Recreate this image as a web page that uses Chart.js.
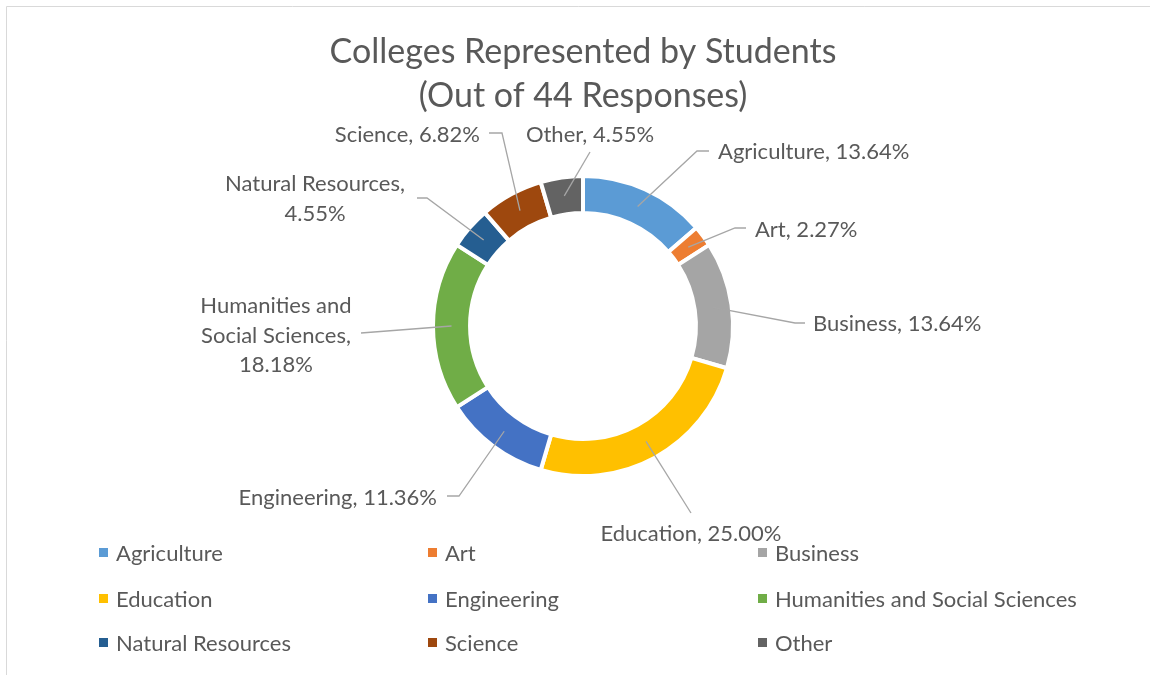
<!DOCTYPE html>
<html>
<head>
<meta charset="utf-8">
<script src="https://cdn.jsdelivr.net/npm/chart.js@4.4.1/dist/chart.umd.min.js"></script>
<style>
  html, body { margin: 0; padding: 0; background: #fff; }
  #wrap { position: relative; width: 1150px; height: 675px; }
</style>
</head>
<body>
<div id="wrap"><canvas id="chart" width="1150" height="675"></canvas></div>
<script>
// Data (44 responses)
const categories = ['Agriculture', 'Art', 'Business', 'Education', 'Engineering',
  'Humanities and Social Sciences', 'Natural Resources', 'Science', 'Other'];
const responses = [6, 1, 6, 11, 5, 8, 2, 3, 2];
const totalResponses = 44;
const titleLines = ['Colleges Represented by Students', '(Out of 44 Responses)'];

// Office palette
const colors = ['#5B9BD5', '#ED7D31', '#A5A5A5', '#FFC000', '#4472C4',
  '#70AD47', '#255E91', '#9E480E', '#636363'];

// Label placement, relative to the ring centre (elbow points, then text anchor)
const labelLayout = [
  { path: [[114, -175], [126, -175]], tx: 135, ty: -175, align: 'left', lines: ['Agriculture, {p}'] },
  { path: [[152, -98], [163, -98]], tx: 172, ty: -97, align: 'left', lines: ['Art, {p}'] },
  { path: [[212, -3], [222, -3]], tx: 230, ty: -3, align: 'left', lines: ['Business, {p}'] },
  { path: [[108, 187]], tx: 108, ty: 207, align: 'center', lines: ['Education, {p}'] },
  { path: [[-124, 170], [-136, 170]], tx: -146, ty: 171, align: 'right', lines: ['Engineering, {p}'] },
  { path: [[-222, 7]], tx: -307, ty: -21, align: 'center', lines: ['Humanities and', 'Social Sciences,', '{p}'] },
  { path: [[-156, -128], [-166, -128]], tx: -268, ty: -143, align: 'center', lines: ['Natural Resources,', '{p}'] },
  { path: [[-81, -193], [-94, -193]], tx: -103, ty: -192, align: 'right', lines: ['Science, {p}'] },
  { path: [[7, -174]], tx: 7, ty: -192, align: 'center', lines: ['Other, {p}'] }
];

const FONT = 'Lato, "Open Sans", sans-serif';
const TEXT = '#595959';

const decorPlugin = {
  id: 'decor',
  beforeDraw(chart) {
    const ctx = chart.ctx;
    ctx.save();
    // chart frame (top + left edges visible)
    ctx.strokeStyle = '#D9D9D9';
    ctx.lineWidth = 1;
    ctx.beginPath();
    ctx.moveTo(6.5, 675);
    ctx.lineTo(6.5, 6.5);
    ctx.lineTo(1150, 6.5);
    ctx.stroke();
    // title
    ctx.fillStyle = TEXT;
    ctx.font = '34px ' + FONT;
    ctx.textAlign = 'center';
    ctx.textBaseline = 'alphabetic';
    ctx.fillText(titleLines[0], 583, 63);
    ctx.fillText(titleLines[1], 583, 107);
    ctx.restore();
  },
  afterDatasetsDraw(chart) {
    const ctx = chart.ctx;
    const meta = chart.getDatasetMeta(0);
    const cx = (chart.chartArea.left + chart.chartArea.right) / 2;
    const cy = (chart.chartArea.top + chart.chartArea.bottom) / 2;
    ctx.save();
    ctx.font = '22px ' + FONT;
    ctx.textBaseline = 'alphabetic';
    meta.data.forEach((arc, i) => {
      const lay = labelLayout[i];
      const p = arc.getCenterPoint();
      ctx.strokeStyle = '#A6A6A6';
      ctx.lineWidth = 1.3;
      ctx.beginPath();
      ctx.moveTo(p.x, p.y);
      lay.path.forEach(pt => ctx.lineTo(cx + pt[0], cy + pt[1]));
      ctx.stroke();
      const pct = (responses[i] / totalResponses * 100).toFixed(2) + '%';
      ctx.fillStyle = TEXT;
      ctx.textAlign = lay.align;
      lay.lines.forEach((ln, k) => {
        ctx.fillText(ln.replace('{p}', pct), cx + lay.tx, cy + lay.ty + 8 + k * 29.5);
      });
    });
    ctx.restore();

    // legend, 3 columns
    ctx.save();
    ctx.font = '22px ' + FONT;
    ctx.textAlign = 'left';
    ctx.textBaseline = 'alphabetic';
    const colX = [99, 428, 758];
    const rowY = [553, 599, 643];
    categories.forEach((name, i) => {
      const x = colX[i % 3], y = rowY[Math.floor(i / 3)];
      ctx.fillStyle = colors[i];
      ctx.fillRect(x, y - 5, 9, 9);
      ctx.fillStyle = TEXT;
      ctx.fillText(name, x + 17, y + 8);
    });
    ctx.restore();
  }
};

new Chart(document.getElementById('chart'), {
  type: 'doughnut',
  data: {
    labels: categories,
    datasets: [{
      data: responses,
      backgroundColor: colors,
      borderColor: '#ffffff',
      borderWidth: 4,
      radius: 150,
      cutout: '75.3%'
    }]
  },
  options: {
    responsive: false,
    animation: false,
    layout: { padding: { left: 16, right: 0, top: 0, bottom: 23 } },
    plugins: {
      legend: { display: false },
      tooltip: { enabled: false },
      title: { display: false }
    }
  },
  plugins: [decorPlugin]
});
</script>
</body>
</html>
